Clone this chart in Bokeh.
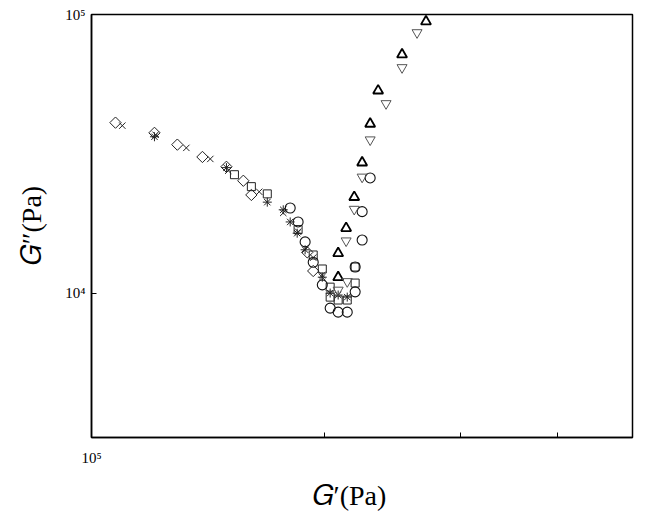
import numpy as np
from bokeh.plotting import figure
from bokeh.models import Range1d, FixedTicker, CustomJSTickFormatter, Label
from bokeh.embed import file_html
from bokeh.resources import INLINE

# ---- data (G' , G'' in Pa) ----
diamond_x = [1.074e5, 1.206e5, 1.291e5, 1.391e5, 1.494e5, 1.571e5, 1.609e5, 1.900e5, 1.934e5]
diamond_y = [4.09e4, 3.76e4, 3.41e4, 3.08e4, 2.84e4, 2.53e4, 2.25e4, 1.40e4, 1.20e4]

cross_x = [1.096e5, 1.210e5, 1.326e5, 1.424e5, 1.502e5, 1.647e5, 1.769e5, 1.849e5, 1.934e5, 1.987e5]
cross_y = [3.99e4, 3.70e4, 3.32e4, 3.03e4, 2.75e4, 2.31e4, 1.94e4, 1.66e4, 1.34e4, 1.16e4]

aster_x = [1.206e5, 1.494e5, 1.687e5, 1.769e5, 1.806e5, 1.844e5, 1.888e5, 1.987e5, 2.034e5, 2.083e5, 2.140e5]
aster_y = [3.64e4, 2.82e4, 2.12e4, 1.99e4, 1.80e4, 1.64e4, 1.43e4, 1.14e4, 1.00e4, 0.984e4, 0.967e4]

square_x = [1.530e5, 1.609e5, 1.687e5, 1.849e5, 1.934e5, 1.987e5, 2.034e5, 2.034e5, 2.083e5, 2.140e5, 2.191e5, 2.191e5]
square_y = [2.66e4, 2.41e4, 2.27e4, 1.69e4, 1.37e4, 1.22e4, 1.05e4, 0.967e4, 0.944e4, 0.944e4, 1.086e4, 1.24e4]

circle_x = [1.806e5, 1.849e5, 1.888e5, 1.934e5, 1.987e5, 2.034e5, 2.083e5, 2.140e5, 2.191e5, 2.191e5, 2.237e5, 2.237e5, 2.291e5]
circle_y = [2.02e4, 1.80e4, 1.526e4, 1.29e4, 1.07e4, 0.883e4, 0.854e4, 0.854e4, 1.01e4, 1.24e4, 1.55e4, 1.96e4, 2.59e4]

tri_up_x = [2.083e5, 2.083e5, 2.133e5, 2.185e5, 2.237e5, 2.291e5, 2.346e5, 2.519e5, 2.705e5]
tri_up_y = [1.14e4, 1.39e4, 1.71e4, 2.21e4, 2.94e4, 4.05e4, 5.33e4, 7.18e4, 9.44e4]

tri_dn_x = [2.083e5, 2.140e5, 2.133e5, 2.185e5, 2.237e5, 2.291e5, 2.402e5, 2.519e5, 2.634e5]
tri_dn_y = [1.025e4, 1.10e4, 1.54e4, 2.00e4, 2.61e4, 3.55e4, 4.79e4, 6.45e4, 8.61e4]

x_ticks = [1e5, 2e5, 3e5, 4e5]
y_ticks = [1e4, 1e5]
x_title = "\U0001D43A\u2032(Pa)"
y_title = "\U0001D43A\u2033(Pa)"

FONT = "Liberation Serif"

p = figure(width=644, height=516, x_axis_type="log", y_axis_type="log",
           x_range=Range1d(1e5, 5e5), y_range=Range1d(3030, 1e5),
           output_backend="svg", toolbar_location=None,
           min_border_left=91, min_border_right=12, min_border_top=14, min_border_bottom=79)

p.background_fill_color = "white"
p.border_fill_color = "white"
p.outline_line_color = "black"
p.outline_line_width = 1.5
p.outline_line_alpha = 1.0
p.grid.grid_line_color = None

for ax in (p.xaxis[0], p.yaxis[0]):
    ax.axis_line_color = "black"
    ax.axis_line_width = 1.5
    ax.major_tick_in = 5
    ax.major_tick_out = 0
    ax.major_tick_line_color = "black"
    ax.minor_tick_line_color = None
    ax.major_label_text_font = FONT
    ax.major_label_text_font_size = "15px"
    ax.major_label_text_color = "black"

p.xaxis.ticker = FixedTicker(ticks=x_ticks)
p.yaxis.ticker = FixedTicker(ticks=y_ticks)
p.xaxis.formatter = CustomJSTickFormatter(
    code="return Math.abs(tick - 1e5) < 1 ? '10\u2075' : '';")
p.yaxis.formatter = CustomJSTickFormatter(
    code="if (Math.abs(tick - 1e4) < 1) return '10\u2074'; if (Math.abs(tick - 1e5) < 1) return '10\u2075'; return '';")
p.xaxis.major_label_standoff = 12
p.yaxis.major_label_standoff = 6

common = dict(fill_alpha=0)
p.scatter(diamond_x, diamond_y, marker="square", angle=np.pi / 4, size=8,
          line_color="#222222", line_width=1, **common)
p.scatter(cross_x, cross_y, marker="x", size=9, line_color="#222222", line_width=1, **common)
p.scatter(aster_x, aster_y, marker="asterisk", size=9, line_color="#222222", line_width=1, **common)
p.scatter(square_x, square_y, marker="square", size=8, line_color="#222222", line_width=1, **common)
p.scatter(circle_x, circle_y, marker="circle", size=10, line_color="#111111", line_width=1.1, **common)
p.scatter(tri_up_x, tri_up_y, marker="triangle", size=10, line_color="black", line_width=1.8, **common)
p.scatter(tri_dn_x, tri_dn_y, marker="inverted_triangle", size=10, line_color="#555555", line_width=1, **common)

# axis titles placed in the side panels (not clipped there); anchor positions in data units
p.add_layout(Label(x=2.154e5, y=1876, text=x_title,
                   text_font=FONT, text_font_size="28px",
                   text_align="center", text_baseline="middle", text_color="black"), "below")
p.add_layout(Label(x=83670, y=17480, text=y_title, angle=np.pi / 2,
                   text_font=FONT, text_font_size="28px",
                   text_align="center", text_baseline="middle", text_color="black"), "left")

open("out.html", "w").write(file_html(p, INLINE))
